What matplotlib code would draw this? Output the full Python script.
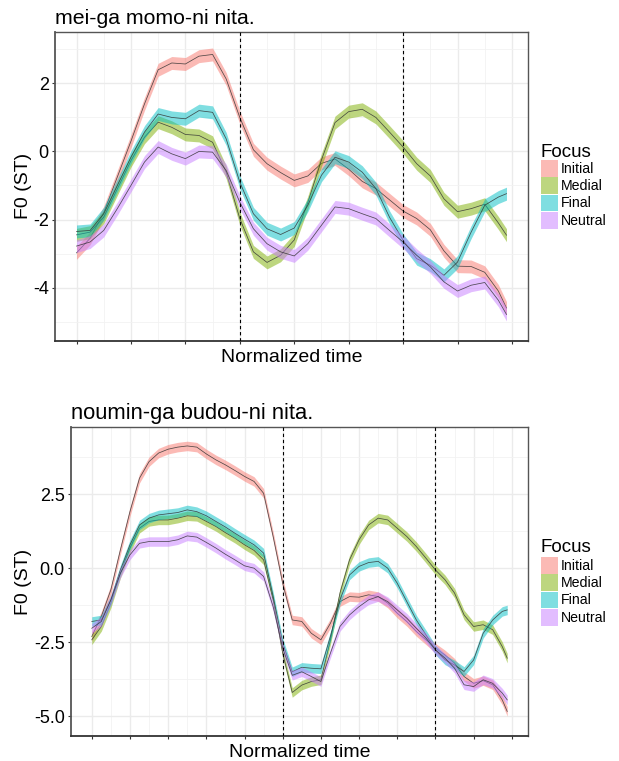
import matplotlib
matplotlib.use('Agg')
import matplotlib.pyplot as plt
from matplotlib.patches import Rectangle
import numpy as np

plt.rcParams['font.family'] = ['Liberation Sans', 'DejaVu Sans']

# ---------------- data ----------------
focus = ['Initial', 'Medial', 'Final', 'Neutral']
colors = ['#F8766D', '#7CAE00', '#00BFC4', '#C77CFF']

top_title = 'mei-ga momo-ni nita.'
top_x = [0, 0.25, 0.5, 0.75, 1, 1.25, 1.5, 1.75, 2, 2.25, 2.5, 2.75, 3, 3.25, 3.5, 3.75,
         4, 4.25, 4.5, 4.75, 5, 5.25, 5.5, 5.75, 6, 6.25, 6.5, 6.75, 7, 7.25, 7.5, 7.75, 7.9]
top_initial = [-2.98, -2.55, -1.8, -0.75, 0.3, 1.4, 2.4, 2.6, 2.57, 2.8, 2.85, 2.13, 1.0, 0.05,
               -0.36, -0.62, -0.85, -0.72, -0.35, -0.22, -0.52, -0.88, -1.09, -1.42, -1.75,
               -1.97, -2.3, -2.92, -3.37, -3.38, -3.55, -4.1, -4.6]
top_medial = [-2.45, -2.37, -1.93, -1.1, -0.27, 0.42, 0.86, 0.71, 0.5, 0.47, 0.27, -0.61, -1.97,
              -2.95, -3.26, -3.05, -2.6, -1.5, -0.25, 0.85, 1.17, 1.24, 1.0, 0.57, 0.13, -0.36,
              -0.72, -1.39, -1.77, -1.68, -1.55, -2.1, -2.46]
top_final = [-2.35, -2.32, -1.83, -1.0, -0.17, 0.57, 1.1, 1.0, 0.96, 1.2, 1.15, 0.37, -0.9, -1.83,
             -2.27, -2.44, -2.25, -1.58, -0.7, -0.17, -0.31, -0.61, -1.09, -1.93, -2.61, -3.15,
             -3.34, -3.64, -3.25, -2.37, -1.58, -1.34, -1.24]
top_neutral = [-2.78, -2.66, -2.32, -1.68, -1.0, -0.31, 0.13, -0.07, -0.21, 0.0, -0.02, -0.56,
               -1.49, -2.27, -2.71, -2.95, -3.07, -2.71, -2.17, -1.63, -1.68, -1.83, -1.97, -2.32,
               -2.66, -3.05, -3.39, -3.83, -4.1, -3.93, -3.85, -4.37, -4.79]
top_se = 0.19
top_boundaries = [3, 6]
top_yticks = [-4, -2, 0, 2]
top_yticklabels = ['-4', '-2', '0', '2']

bot_title = 'noumin-ga budou-ni nita.'
bot_x = [0, 0.25, 0.5, 0.75, 1, 1.25, 1.5, 1.75, 2, 2.25, 2.5, 2.75, 3, 3.25, 3.5, 3.75,
         4, 4.25, 4.5, 4.75, 5, 5.25, 5.5, 5.75, 6, 6.25, 6.5, 6.75, 7, 7.25, 7.5, 7.75,
         8, 8.25, 8.5, 8.75, 9, 9.25, 9.5, 9.75, 10, 10.25, 10.5, 10.75, 10.88]
bot_initial = [-2.31, -1.63, -0.73, 0.62, 1.91, 3.04, 3.6, 3.89, 4.02, 4.09, 4.13, 4.09, 3.86,
               3.66, 3.49, 3.3, 3.1, 2.93, 2.53, 1.07, -0.51, -1.75, -1.8, -2.2, -2.42, -1.86,
               -1.13, -0.96, -0.98, -0.9, -0.96, -1.18, -1.52, -1.8, -2.14, -2.42, -2.7, -2.93,
               -3.21, -3.66, -3.89, -3.8, -3.94, -4.45, -4.84]
bot_medial = [-2.42, -1.97, -1.18, -0.17, 0.68, 1.35, 1.58, 1.63, 1.63, 1.69, 1.77, 1.75, 1.58,
              1.41, 1.2, 1.01, 0.79, 0.6, 0.28, -1.07, -2.87, -4.2, -3.95, -3.83, -3.77, -2.42,
              -0.84, 0.28, 0.96, 1.46, 1.69, 1.63, 1.35, 1.07, 0.73, 0.34, -0.06, -0.39, -0.84,
              -1.58, -1.97, -1.91, -2.08, -2.65, -3.04]
bot_final = [-1.8, -1.75, -1.07, -0.06, 0.79, 1.46, 1.69, 1.8, 1.84, 1.88, 1.97, 1.91, 1.77,
             1.58, 1.39, 1.18, 0.98, 0.79, 0.51, -0.96, -2.53, -3.5, -3.35, -3.38, -3.4, -2.3,
             -1.07, -0.23, 0.06, 0.19, 0.23, 0.0, -0.51, -1.13, -1.75, -2.25, -2.76, -3.1, -3.27,
             -3.49, -3.1, -2.2, -1.75, -1.46, -1.41]
bot_neutral = [-2.03, -1.8, -1.07, -0.17, 0.45, 0.84, 0.9, 0.9, 0.9, 0.96, 1.09, 1.05, 0.87,
               0.68, 0.47, 0.28, 0.08, 0.0, -0.28, -1.3, -2.7, -3.62, -3.5, -3.66, -3.83, -2.87,
               -1.97, -1.58, -1.3, -1.07, -0.96, -1.13, -1.41, -1.69, -2.03, -2.36, -2.76, -3.04,
               -3.38, -3.94, -4.0, -3.77, -3.89, -4.22, -4.45]
bot_se = 0.16
bot_boundaries = [5, 9]
bot_yticks = [-5.0, -2.5, 0.0, 2.5]
bot_yticklabels = ['-5.0', '-2.5', '0.0', '2.5']

xlabel = 'Normalized time'
ylabel = 'F0 (ST)'
legend_title = 'Focus'

# ---------------- layout ----------------
W, H = 619, 761
fig = plt.figure(figsize=(W / 100, H / 100), dpi=100)


def fx(px):
    return px / W


def fy(py):
    return 1 - py / H


def panel(box, title, title_size, x, series, se, bounds, yticks, yticklabels, ylim,
          leg_title_base, key_top):
    l, t, r, b = box
    ax = fig.add_axes([fx(l), fy(b), fx(r) - fx(l), fy(t) - fy(b)])
    x = np.asarray(x, dtype=float)
    rng = x[-1] - x[0]
    ax.set_xlim(x[0] - 0.05 * rng, x[-1] + 0.05 * rng)
    ax.set_ylim(*ylim)
    for i, (name, col, y) in enumerate(zip(focus, colors, series)):
        y = np.asarray(y, dtype=float)
        ax.fill_between(x, y - se, y + se, color=col, alpha=0.5, lw=0, zorder=3 + 2 * i)
        ax.plot(x, y, color='#333333', lw=0.55, alpha=0.85, zorder=4 + 2 * i,
                solid_joinstyle='round')
    for bx in bounds:
        ax.axvline(bx, color='black', lw=0.8, ls=(0, (3, 2.5)), zorder=20)

    xmaj = np.arange(0, np.floor(ax.get_xlim()[1]) + 1)
    ax.set_xticks(xmaj)
    ax.set_xticks(xmaj[:-1] + 0.5, minor=True)
    ax.set_xticklabels([])
    step = yticks[1] - yticks[0]
    ax.set_yticks(yticks)
    ymin = [v + step / 2 for v in [yticks[0] - step] + list(yticks)]
    ymin = [v for v in ymin if ylim[0] <= v <= ylim[1]]
    ax.set_yticks(ymin, minor=True)
    ax.set_yticklabels(yticklabels, fontsize=13, color='black')
    ax.grid(True, which='major', color='#EBEBEB', lw=1.0, zorder=0)
    ax.grid(True, which='minor', color='#F2F2F2', lw=0.6, zorder=0)
    ax.set_axisbelow(True)
    ax.tick_params(which='major', length=2.5, width=0.8, color='#333333', pad=2)
    ax.tick_params(which='minor', length=0)
    for s in ax.spines.values():
        s.set_color('#555555')
        s.set_linewidth(1.0)
    ax.spines['left'].set_linewidth(1.3)
    ax.spines['bottom'].set_linewidth(1.3)
    ax.spines['bottom'].set_color('#333333')

    fig.text(fx(l), fy(t - 8), title, fontsize=title_size, ha='left', va='baseline')
    fig.text(fx((l + r) / 2), fy(b + 21), xlabel, fontsize=14, ha='center', va='baseline')
    fig.text(fx(24), fy((t + b) / 2), ylabel, fontsize=14, rotation=90, ha='center', va='center')

    # legend
    fig.text(fx(541), fy(leg_title_base), legend_title, fontsize=13.5, ha='left', va='baseline')
    key = 17.3
    for i, (name, col) in enumerate(zip(focus, colors)):
        ktop = key_top + i * key
        fig.add_artist(Rectangle((fx(541), fy(ktop + key - 0.6)), fx(key - 0.6), fy(0) - fy(key - 0.6),
                                 transform=fig.transFigure, facecolor=col, alpha=0.5, lw=0))
        fig.text(fx(561), fy(ktop + key / 2), name, fontsize=10.2, ha='left', va='center')
    return ax


panel((55, 32, 528, 340.7), top_title, 15.3, top_x,
      [top_initial, top_medial, top_final, top_neutral], top_se, top_boundaries,
      top_yticks, top_yticklabels, (-5.56, 3.51), 157, 160)

panel((71, 427, 528, 736), bot_title, 15.8, bot_x,
      [bot_initial, bot_medial, bot_final, bot_neutral], bot_se, bot_boundaries,
      bot_yticks, bot_yticklabels, (-5.67, 4.77), 552, 557)

fig.savefig('out.png', dpi=100)
